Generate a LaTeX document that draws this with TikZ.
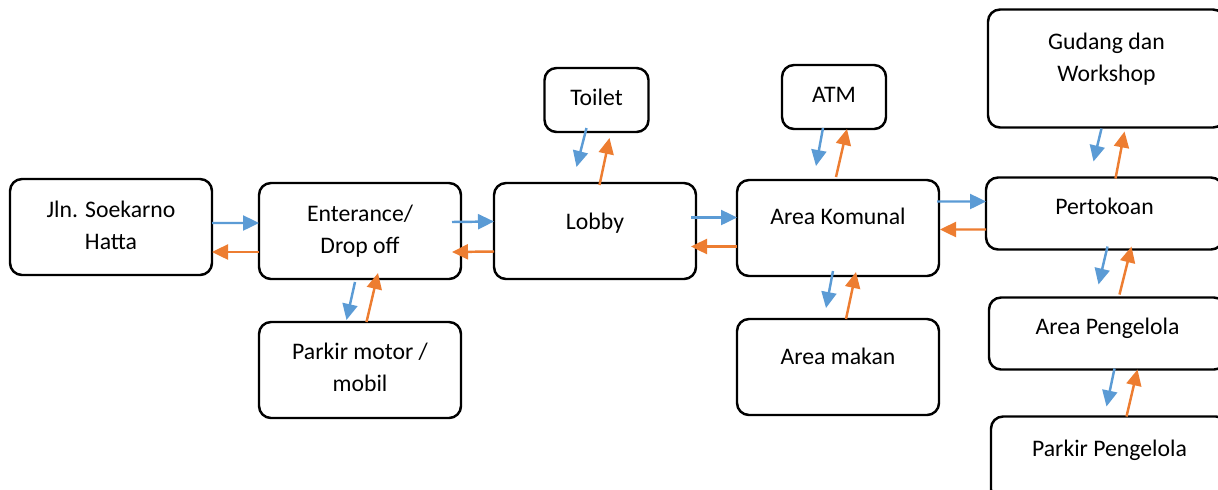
\documentclass[tikz,border=0pt]{standalone}
\usepackage{fontspec}
\setmainfont{Carlito}
\usepackage{xcolor}
\usetikzlibrary{positioning, arrows.meta}

\definecolor{flowblue}{RGB}{91,155,213}
\definecolor{floworange}{RGB}{237,125,49}

\begin{document}
\begin{tikzpicture}[
  every node/.style={font=\fontsize{13.5}{18.2}\selectfont},
  room/.style={draw, rectangle, rounded corners=0.24cm, line width=1.4pt, outer sep=0pt, minimum width=4.04cm, minimum height=1.92cm, align=center, text height=0.3cm, text depth=0.06cm},
  smallroom/.style={room, minimum width=2.08cm, minimum height=1.28cm},
  sideroom/.style={room, minimum width=4.74cm, minimum height=1.44cm, text depth=0.25cm},
  twoline/.style={text height=0.94cm},
  high/.style={text depth=0.42cm},
  outflow/.style={-{Triangle[length=0.32cm, width=0.3cm]}, line width=1.4pt, draw=flowblue},
  inflow/.style={-{Triangle[length=0.32cm, width=0.3cm]}, line width=1.4pt, draw=floworange}
]
\useasboundingbox (0,0) rectangle (24.36,-9.78);

% Main row
\node[room, twoline] (jln) at (2.22,-4.54) {Jln. Soekarno\\Hatta};
\node[room, twoline, right=0.94cm of jln, yshift=-0.08cm] (ent) {Enterance/\\Drop off};
\node[room, high, right=0.66cm of ent, text depth=0.38cm] (lobby) {Lobby};
\node[room, high, right=0.82cm of lobby, yshift=0.06cm, text depth=0.46cm] (kom) {Area Komunal};
\node[sideroom, right=0.94cm of kom, yshift=0.29cm] (pert) {Pertokoan};

% Upper rooms
\node[smallroom, above=1.02cm of lobby, xshift=0.03cm, text depth=0.1cm] (toilet) {Toilet};
\node[smallroom, above=1.02cm of kom, xshift=-0.08cm, text depth=0.08cm] (atm) {ATM};
\node[sideroom, high, twoline, above=1.0cm of pert, xshift=0.04cm, minimum height=2.36cm] (gud) {Gudang dan\\Workshop};

% Lower rooms
\node[room, twoline, below=0.86cm of ent, text depth=0.08cm] (pmot) {Parkir motor /\\mobil};
\node[room, high, below=0.86cm of kom] (makan) {Area makan};
\node[sideroom, below=0.96cm of pert, xshift=0.06cm, text depth=0.26cm] (peng) {Area Pengelola};
\node[sideroom, high, below=0.94cm of peng, xshift=0.04cm, minimum height=1.7cm] (ppeng) {Parkir Pengelola};

% Arrows along the main row
\draw[outflow] ([yshift=0.08cm]jln.east) -- ([yshift=0.16cm]ent.west);
\draw[inflow] ([yshift=-0.42cm]ent.west) -- ([yshift=-0.5cm]jln.east);
\draw[outflow] ([xshift=-0.18cm, yshift=0.18cm]ent.east) -- ([yshift=0.19cm]lobby.west);
\draw[inflow] ([yshift=-0.41cm]lobby.west) -- ([xshift=-0.18cm, yshift=-0.42cm]ent.east);
\draw[outflow] ([xshift=-0.1cm, yshift=0.27cm]lobby.east) -- ([yshift=0.21cm]kom.west);
\draw[inflow] ([yshift=-0.37cm]kom.west) -- ([xshift=-0.1cm, yshift=-0.31cm]lobby.east);
\draw[outflow] ([xshift=-0.04cm, yshift=0.53cm]kom.east) -- ([yshift=0.24cm]pert.west);
\draw[inflow] ([yshift=-0.32cm]pert.west) -- ([xshift=0.02cm, yshift=-0.03cm]kom.east);

% Arrows to the side rooms
\draw[outflow] ([xshift=-0.1cm, yshift=-0.06cm]ent.south) -- ([xshift=-0.27cm, yshift=0.04cm]pmot.north);
\draw[inflow] ([xshift=0.13cm]pmot.north) -- ([xshift=0.36cm, yshift=0.12cm]ent.south);
\draw[outflow] ([xshift=-0.2cm, yshift=0.08cm]toilet.south) -- ([xshift=-0.37cm, yshift=0.32cm]lobby.north);
\draw[inflow] ([xshift=0.09cm, yshift=-0.04cm]lobby.north) -- ([xshift=0.26cm, yshift=-0.12cm]toilet.south);
\draw[outflow] ([xshift=-0.22cm, yshift=0.02cm]atm.south) -- ([xshift=-0.44cm, yshift=0.28cm]kom.north);
\draw[inflow] ([xshift=-0.04cm, yshift=0.06cm]kom.north) -- ([xshift=0.26cm]atm.south);
\draw[outflow] ([xshift=-0.1cm, yshift=0.1cm]kom.south) -- ([xshift=-0.24cm, yshift=0.22cm]makan.north);
\draw[inflow] ([xshift=0.16cm]makan.north) -- ([xshift=0.36cm, yshift=0.08cm]kom.south);
\draw[outflow] ([xshift=-0.1cm, yshift=-0.02cm]gud.south) -- ([xshift=-0.22cm, yshift=0.32cm]pert.north);
\draw[inflow] ([xshift=0.22cm, yshift=-0.02cm]pert.north) -- ([xshift=0.36cm, yshift=-0.08cm]gud.south);
\draw[outflow] ([xshift=0.06cm, yshift=0.06cm]pert.south) -- ([xshift=-0.18cm, yshift=0.26cm]peng.north);
\draw[inflow] ([xshift=0.24cm, yshift=0.06cm]peng.north) -- ([xshift=0.54cm, yshift=0.06cm]pert.south);
\draw[outflow] ([xshift=0.14cm, yshift=0.02cm]peng.south) -- ([xshift=-0.06cm, yshift=0.2cm]ppeng.north);
\draw[inflow] ([xshift=0.34cm]ppeng.north) -- ([xshift=0.6cm]peng.south);

\end{tikzpicture}
\end{document}
